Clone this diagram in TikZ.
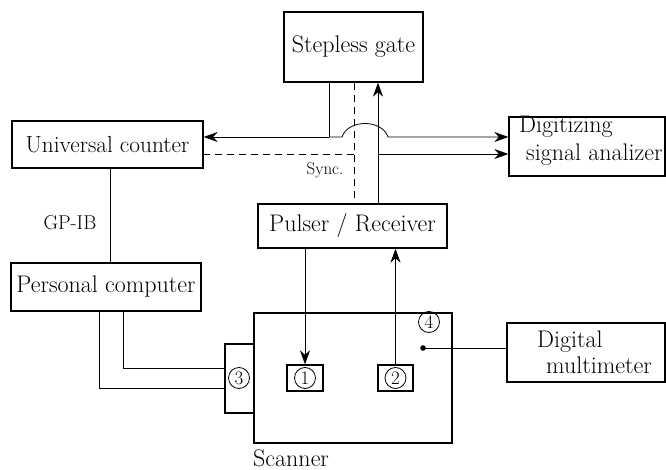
\documentclass[tikz,border=0pt]{standalone}
\usepackage{fontspec}
\usetikzlibrary{arrows.meta}
\begin{document}
\begin{tikzpicture}[x=1pt,y=-1pt,
  box/.style={draw,line width=1.3pt,inner sep=0pt,font=\fontsize{24}{27}\selectfont},
  lab/.style={inner sep=0pt,font=\fontsize{24}{27}\selectfont},
  wire/.style={line width=0.8pt},
  arr/.style={wire,-{Stealth[length=14pt,width=10pt,inset=4.5pt]}},
  dsh/.style={wire,dash pattern=on 7pt off 5pt},
  circ/.style={draw,circle,line width=0.8pt,inner sep=0pt,minimum size=21pt,font=\fontsize{19}{20}\selectfont}]
\useasboundingbox (0,0) rectangle (666,470);
% boxes
\node[box,minimum width=139pt,minimum height=70pt] (gate) at (353.5,47) {Stepless gate};
\node[box,minimum width=191pt,minimum height=47pt,font=\fontsize{23.3}{26}\selectfont] (uc) at (107.5,144.5) {Universal counter};
\node[box,minimum width=156pt,minimum height=59pt] (dsa) at (587,146.5) {};
\node[lab,anchor=west] (dsa1) at (519,127) {Digitizing};
\node[lab,anchor=west] (dsa2) at (526,155) {signal analizer};
\node[box,minimum width=189pt,minimum height=44pt] (pr) at (352.5,226) {Pulser / Receiver};
\node[box,minimum width=190pt,minimum height=48pt] (pc) at (106,287) {Personal computer};
\node[box,minimum width=198pt,minimum height=130pt] (scan) at (353,378) {};
\node[lab,anchor=west] (scanlab) at (253,458) {Scanner};
\node[box,minimum width=29pt,minimum height=69pt] (conn) at (239.5,378.5) {};
\node[circ] (c3) at (239,378) {3};
\node[box,minimum width=36pt,minimum height=26pt] (b1) at (305,378) {};
\node[circ] (c1) at (305,378) {1};
\node[box,minimum width=35pt,minimum height=26pt] (b2) at (395.5,378) {};
\node[circ] (c2) at (395.5,378) {2};
\node[circ] (c4) at (429,322) {4};
\node[box,minimum width=158pt,minimum height=59pt] (dm) at (586,352.5) {};
\node[lab,anchor=west] (dm1) at (537,342) {Digital};
\node[lab,anchor=west] (dm2) at (546,365) {multimeter};
\fill (423,348) circle (2.8pt);
\coordinate (dot) at (423,348);
% junctions
\coordinate (j1) at (329,137);
\coordinate (hopA) at (342,137);
\coordinate (hopB) at (388,137);
\coordinate (jd) at (354,154);
\coordinate (js) at (378,154);
% gate output
\draw[wire] (gate.south -| j1) -- (j1);
\draw[arr] (j1) -- (uc.east |- j1);
\draw[arr] (j1) -- (hopA) .. controls (348,119) and (382,119) .. (hopB) -- (dsa.west |- hopB);
% sync dashed
\draw[dsh] (gate.south -| jd) -- (pr.north -| jd);
\draw[dsh] (jd) -- (uc.east |- jd);
\node[inner sep=0pt,font=\fontsize{17}{19}\selectfont] (sync) at (325,170) {Sync.};
% receiver signal
\draw[arr] (pr.north -| js) -- (gate.south -| js);
\draw[arr] (js) -- (dsa.west |- js);
% GP-IB
\draw[wire] (uc.south -| 110,0) -- (pc.north -| 110,0);
\node[inner sep=0pt,font=\fontsize{20}{22}\selectfont] (gpib) at (70,223) {GP-IB};
% PC to scanner connector
\draw[wire] (pc.south -| 123,0) |- (conn.west |- 0,368);
\draw[wire] (pc.south -| 99,0) |- (conn.west |- 0,388);
% pulser to probes
\draw[arr] (pr.south -| b1) -- (b1.north);
\draw[arr] (b2.north) -- (pr.south -| b2);
% multimeter
\draw[wire] (dot) -- (dm.west |- dot);
\end{tikzpicture}
\end{document}
